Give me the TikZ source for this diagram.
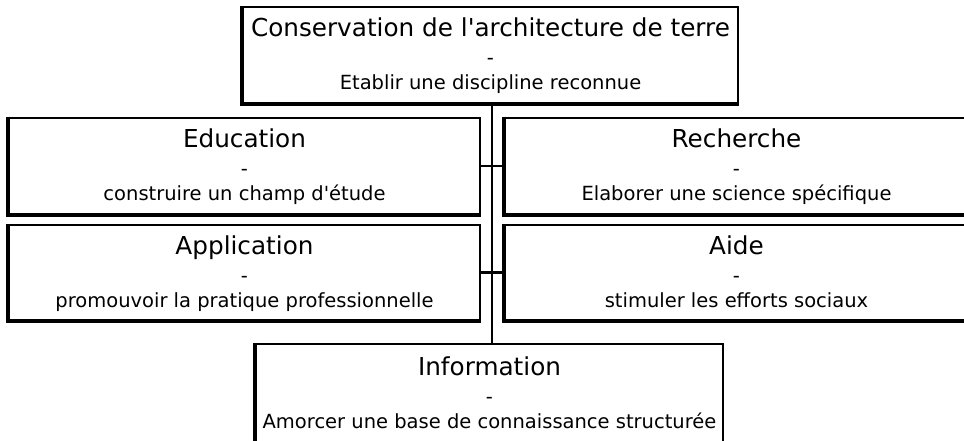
\documentclass[tikz,border=0pt]{standalone}
\usepackage{fontspec}
\setmainfont{DejaVu Sans}
\begin{document}
\begin{tikzpicture}[x=1pt,y=-1pt,
  box/.style={draw, line width=2.4pt, rectangle, inner sep=0pt, align=center,
    font=\fontsize{19.5}{25}\selectfont},
  heavy/.style={line width=4.5pt},
  link/.style={line width=2.4pt}]
\useasboundingbox[fill=white] (0,0) rectangle (964,441);
\newcommand{\ttl}[1]{{\fontsize{24.7}{25}\selectfont\rule{0pt}{21pt}#1}}
\newcommand{\subl}[1]{#1\vphantom{p}}
\node[box, minimum width=495pt, minimum height=96pt] (top) at (490.5,55)
  {\ttl{Conservation de l\textquotesingle architecture de terre}\\[3pt]-\\\subl{Etablir une discipline reconnue}};
\node[box, minimum width=471pt, minimum height=96pt] (edu) at (244.5,166)
  {\ttl{Education}\\[3pt]-\\\subl{construire un champ d\textquotesingle étude}};
\node[box, minimum width=463pt, minimum height=96pt] (rech) at (736.5,166)
  {\ttl{Recherche}\\[3pt]-\\\subl{Elaborer une science spécifique}};
\node[box, minimum width=471pt, minimum height=95pt] (app) at (244.5,272.5)
  {\ttl{Application}\\[3pt]-\\\subl{promouvoir la pratique professionnelle}};
\node[box, minimum width=463pt, minimum height=95pt] (aide) at (736.5,272.5)
  {\ttl{Aide}\\[3pt]-\\\subl{stimuler les efforts sociaux}};
\node[box, minimum width=467pt, minimum height=100pt] (info) at (489.5,394)
  {\ttl{Information}\\[3pt]-\\\subl{Amorcer une base de connaissance structurée}};
\foreach \n in {top,edu,rech,app,aide,info}
  \draw[heavy] (\n.north west) -- (\n.south west) -- (\n.south east);
\coordinate (trunk) at (492,0);
\draw[link] (top.south -| trunk) -- (info.north -| trunk);
\draw[link] (edu.east) -- (rech.west);
\draw[link] (app.east) -- (aide.west);
\end{tikzpicture}
\end{document}
